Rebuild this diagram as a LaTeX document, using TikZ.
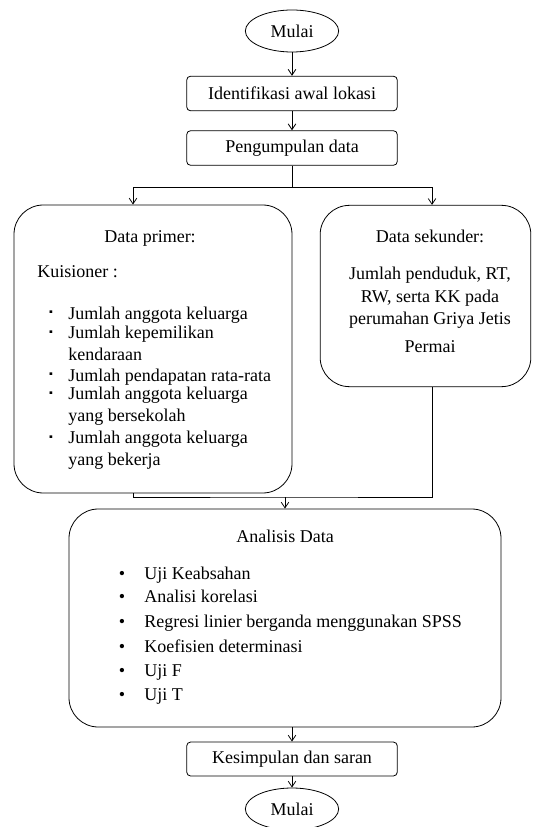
\documentclass[tikz,border=0pt]{standalone}
\usepackage{fontspec}
\setmainfont{Liberation Serif}
\usepackage{tikz}
\usetikzlibrary{positioning,arrows.meta,shapes.geometric}
\tikzset{
  term/.style={ellipse, draw=black, line width=0.6pt, minimum width=70pt,
    minimum height=31.5pt, inner sep=0pt},
  stepbox/.style={draw=black, line width=0.6pt, rounded corners=3pt,
    minimum width=158pt, minimum height=26pt, inner sep=0pt},
  panel/.style={draw=black, line width=0.6pt, rounded corners=22pt, inner sep=0pt},
  arr/.style={-{Straight Barb[length=1.5mm, width=2mm]}, draw=black, line width=0.6pt},
  conn/.style={draw=black, line width=0.6pt},
  item/.style={anchor=base west, inner sep=0pt, align=left},
  bul/.style={anchor=base, inner sep=0pt},
  sq/.style={bul, yshift=2.6pt, font=\footnotesize},
  head/.style={inner sep=0pt, align=center}}
\begin{document}
\begin{tikzpicture}[x=0.75pt, y=-0.75pt, font=\fontsize{13.5pt}{16pt}\selectfont]
  \useasboundingbox (0,0) rectangle (533,827);
  % main chain
  \node[term] (mulai) at (292,31) {Mulai};
  \node[stepbox] (ident) at (292,93.5) {Identifikasi awal lokasi};
  \node[stepbox] (kumpul) at (292,148) {Pengumpulan data};
  \node[panel, minimum width=208.5pt, minimum height=216pt] (primer) at (153,349) {};
  \node[panel, minimum width=158pt, minimum height=136pt] (sekunder) at (425.5,296) {};
  \node[panel, minimum width=324pt, minimum height=163.5pt] (analisis) at (285,618) {};
  \node[stepbox, minimum height=25.5pt] (simpul) at (292,759) {Kesimpulan dan saran};
  \node[term] (selesai) at (292,809) {Mulai};
  % data primer (two-line items sit on their last baseline)
  \node[head] (hprim) at (150,238) {Data primer:};
  \node[item] (kuis) at (37,277) {Kuisioner :};
  \node[sq] (b1) at (51,319) {▪};
  \node[item] (i1) at (68,319) {Jumlah anggota keluarga};
  \node[sq] (b2) at (51,339) {▪};
  \node[item] (i2) at (68,360) {Jumlah kepemilikan\\ kendaraan};
  \node[sq] (b3) at (51,381) {▪};
  \node[item] (i3) at (68,381) {Jumlah pendapatan rata-rata};
  \node[sq] (b4) at (51,400) {▪};
  \node[item] (i4) at (68,421) {Jumlah anggota keluarga\\ yang bersekolah};
  \node[sq] (b5) at (51,444) {▪};
  \node[item] (i5) at (68,465) {Jumlah anggota keluarga\\ yang bekerja};
  % data sekunder
  \node[head] (hsek) at (430,236) {Data sekunder:};
  \node[head, font=\fontsize{13.5pt}{17pt}\selectfont] (isek) at (430,310)
    {Jumlah penduduk, RT,\\ RW, serta KK pada\\ perumahan Griya Jetis\\[4pt] Permai};
  % analisis
  \node[head] (hanal) at (285,536) {Analisis Data};
  \node[bul] (c1) at (122,579) {•};
  \node[item] (a1) at (144,579) {Uji Keabsahan};
  \node[bul] (c2) at (122,602) {•};
  \node[item] (a2) at (144,602) {Analisi korelasi};
  \node[bul] (c3) at (122,627) {•};
  \node[item] (a3) at (144,627) {Regresi linier berganda menggunakan SPSS};
  \node[bul] (c4) at (122,652) {•};
  \node[item] (a4) at (144,652) {Koefisien determinasi};
  \node[bul] (c5) at (122,676) {•};
  \node[item] (a5) at (144,676) {Uji F};
  \node[bul] (c6) at (122,700) {•};
  \node[item] (a6) at (144,700) {Uji T};
  % connectors
  \draw[arr] (mulai) -- (ident);
  \draw[arr] (ident) -- (kumpul);
  \draw[arr] (kumpul.south) -- ++(0,22) -| ([xshift=-15pt]primer.north);
  \draw[arr] (kumpul.south) -- ++(0,22) -| ([xshift=4.9pt]sekunder.north);
  \coordinate (gabung) at (285,497);
  \draw[conn] ([xshift=-15pt]primer.south) |- (gabung) -| ([xshift=4.9pt]sekunder.south);
  \draw[arr] (gabung) -- (analisis.north);
  \draw[arr] (analisis.south -| simpul.north) -- (simpul.north);
  \draw[arr] (simpul) -- (selesai);
\end{tikzpicture}
\end{document}
